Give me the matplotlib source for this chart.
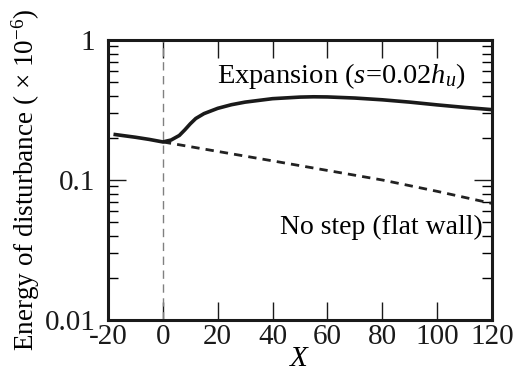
import matplotlib
matplotlib.use("Agg")
import matplotlib.pyplot as plt
from matplotlib.ticker import LogLocator, FixedLocator, NullFormatter

plt.rcParams['font.family'] = ['Liberation Serif', 'DejaVu Serif']
plt.rcParams['mathtext.fontset'] = 'custom'
plt.rcParams['mathtext.rm'] = 'Liberation Serif'
plt.rcParams['mathtext.it'] = 'Liberation Serif:italic'

x_exp = [-18, -10, -5, 0, 3, 6, 8, 10, 12, 15, 20, 25, 30, 40, 50, 55, 60, 70, 80, 90, 100, 110, 120]
e_exp = [0.212, 0.202, 0.195, 0.187, 0.193, 0.208, 0.228, 0.252, 0.275, 0.298, 0.325, 0.345, 0.360, 0.381, 0.391, 0.393, 0.392, 0.385, 0.374, 0.360, 0.344, 0.330, 0.318]
x_flat = [0, 20, 40, 60, 80, 100, 120]
e_flat = [0.187, 0.160, 0.137, 0.117, 0.100, 0.083, 0.068]

xticks = [-20, 0, 20, 40, 60, 80, 100, 120]
yticks = [0.01, 0.1, 1]
ytick_labels = ['0.01', '0.1', '1']

fig = plt.figure(figsize=(5.19, 3.74), dpi=100)
ax = fig.add_axes([108/519, 1 - 320/374, (492-108)/519, (320-40)/374])

ax.axvline(0, color='#808080', lw=1.0, ls=(0, (6, 4)))
ax.plot(x_flat, e_flat, color='#222222', lw=2.0, ls=(0, (3, 2.2)))
ax.plot(x_exp, e_exp, color='#1a1a1a', lw=2.6, solid_capstyle='butt')

ax.set_yscale('log')
ax.set_xlim(-20, 120)
ax.set_ylim(0.01, 1)
ax.set_xticks(xticks)
ax.set_xticklabels([str(t) for t in xticks])
ax.yaxis.set_major_locator(FixedLocator(yticks))
ax.set_yticklabels(ytick_labels)
ax.yaxis.set_minor_locator(LogLocator(base=10, subs=range(2, 10)))
ax.yaxis.set_minor_formatter(NullFormatter())

for s in ax.spines.values():
    s.set_linewidth(2.2)
    s.set_color('#1a1a1a')

ax.tick_params(axis='both', which='major', direction='in', length=13, width=1.0,
               top=True, right=True, labelsize=21, colors='#1a1a1a')
ax.tick_params(axis='y', which='major', pad=9)
ax.tick_params(axis='y', which='minor', direction='in', length=7, width=1.0,
               right=True, left=True)
ax.tick_params(axis='x', which='major', pad=3)

ax.set_xlabel('$X$', fontsize=21, labelpad=-3)
ax.set_ylabel('Energy of disturbance ( × 10$^{-6}$)', fontsize=19.5, labelpad=2)

ax.text(65, 0.55, 'Expansion ($s$=0.02$h_u$)', fontsize=20.5, ha='center', va='center')
ax.text(116.5, 0.046, 'No step (flat wall)', fontsize=20, ha='right', va='center')

fig.savefig('out.png', dpi=100)
